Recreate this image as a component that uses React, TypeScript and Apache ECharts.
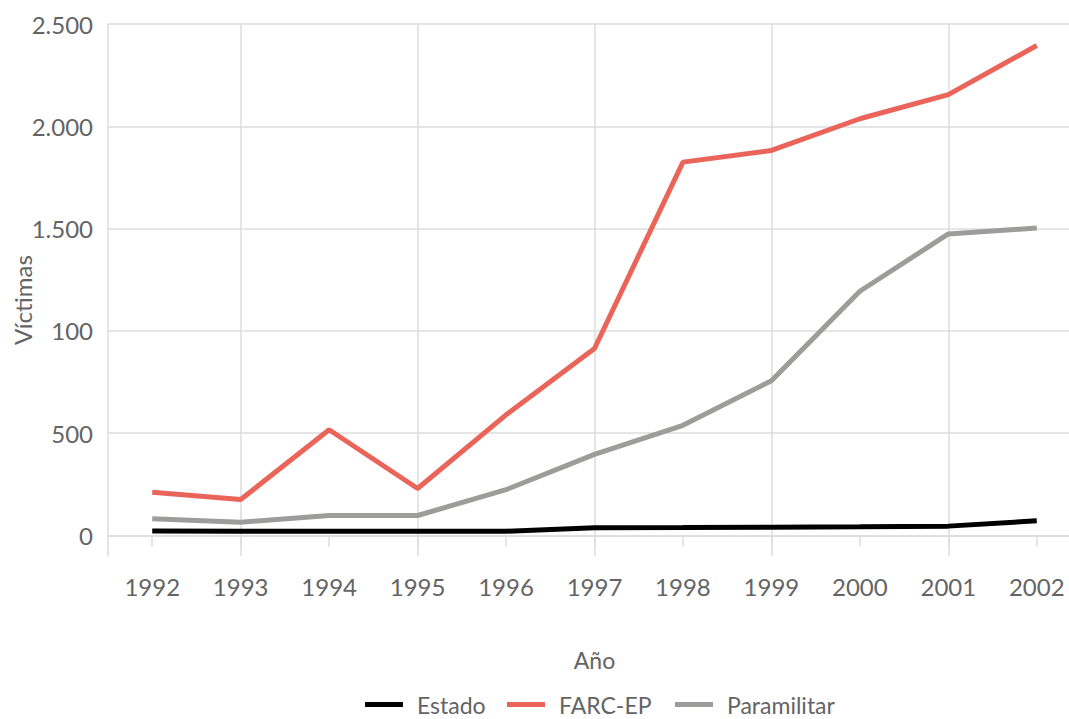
import React, { useEffect, useRef } from "react";
import * as echarts from "echarts";

const years = [1992, 1993, 1994, 1995, 1996, 1997, 1998, 1999, 2000, 2001, 2002];
const estado = [22, 21, 21, 21, 21, 38, 39, 41, 43, 46, 72];
const farc = [212, 176, 517, 230, 590, 914, 1825, 1882, 2037, 2155, 2395];
const paramilitar = [82, 65, 98, 98, 224, 397, 539, 756, 1194, 1474, 1503];
const yTickValues = [0, 500, 1000, 1500, 2000, 2500];
const yTickLabels = ["0", "500", "100", "1.500", "2.000", "2.500"];
const seriesNames = ["Estado", "FARC-EP", "Paramilitar"];
const seriesColors = ["#000000", "#ea6459", "#9c9c9a"];
const xTitle = "Año";
const yTitle = "Víctimas";

const FONT = "Lato, 'DejaVu Sans', sans-serif";
const TEXT = "#646464";
const GRID = "#dcdcdc";

export default function App() {
  const ref = useRef<HTMLDivElement>(null);
  useEffect(() => {
    if (!ref.current) return;
    const chart = echarts.init(ref.current, null, { renderer: "svg" });
    const pair = (arr: number[]) => years.map((y, i) => [y, arr[i]]);
    const legendLefts = [365, 507, 675];
    chart.setOption({
      animation: false,
      backgroundColor: "#ffffff",
      grid: { left: 108, right: -12, top: 24, bottom: 163, outerBoundsMode: "none", containLabel: false },
      graphic: [
        {
          type: "text",
          x: 22,
          y: 300,
          rotation: Math.PI / 2,
          style: {
            text: yTitle,
            fill: TEXT,
            fontSize: 24,
            fontFamily: FONT,
            align: "center",
            verticalAlign: "middle",
          },
        },
      ],
      xAxis: {
        type: "value",
        min: 1991.5,
        max: 2002.5,
        interval: 0.5,
        name: xTitle,
        nameLocation: "middle",
        nameGap: 92,
        nameTextStyle: { color: TEXT, fontSize: 23, fontFamily: FONT },
        axisLine: { show: true, lineStyle: { color: GRID, width: 1.5 } },
        axisTick: { show: true, customValues: years, length: 11, lineStyle: { color: GRID, width: 1.5 } },
        axisLabel: {
          customValues: years,
          color: TEXT,
          fontSize: 24,
          fontFamily: FONT,
          margin: 18,
          formatter: (v: number) => String(v),
        },
        splitLine: { show: true, lineStyle: { color: ["rgba(0,0,0,0)", GRID], width: 1.5 } },
      },
      yAxis: {
        type: "value",
        min: -100,
        max: 2500,
        interval: 100,
        axisLine: { show: true, lineStyle: { color: GRID, width: 1.5 } },
        axisTick: { show: false },
        axisLabel: {
          customValues: yTickValues,
          color: TEXT,
          fontSize: 24,
          fontFamily: FONT,
          margin: 15,
          formatter: (v: number) => {
            const i = yTickValues.indexOf(v);
            return i >= 0 ? yTickLabels[i] : "";
          },
        },
        splitLine: {
          show: true,
          lineStyle: {
            color: ["rgba(0,0,0,0)", GRID, "rgba(0,0,0,0)", "rgba(0,0,0,0)", "rgba(0,0,0,0)"],
            width: 1.5,
          },
        },
      },
      legend: seriesNames.map((n, i) => ({
        left: legendLefts[i],
        top: 693,
        padding: 0,
        itemWidth: 38,
        itemHeight: 5,
        icon: "rect",
        textStyle: { color: TEXT, fontSize: 23, fontFamily: FONT, padding: [0, 0, 0, 9] },
        data: [n],
      })),
      series: [estado, farc, paramilitar].map((arr, i) => ({
        name: seriesNames[i],
        type: "line",
        data: pair(arr),
        showSymbol: false,
        lineStyle: { color: seriesColors[i], width: 5 },
        itemStyle: { color: seriesColors[i] },
      })),
    });
    return () => chart.dispose();
  }, []);
  return <div ref={ref} style={{ width: 1069, height: 719, position: "absolute", left: 0, top: 0 }} />;
}
